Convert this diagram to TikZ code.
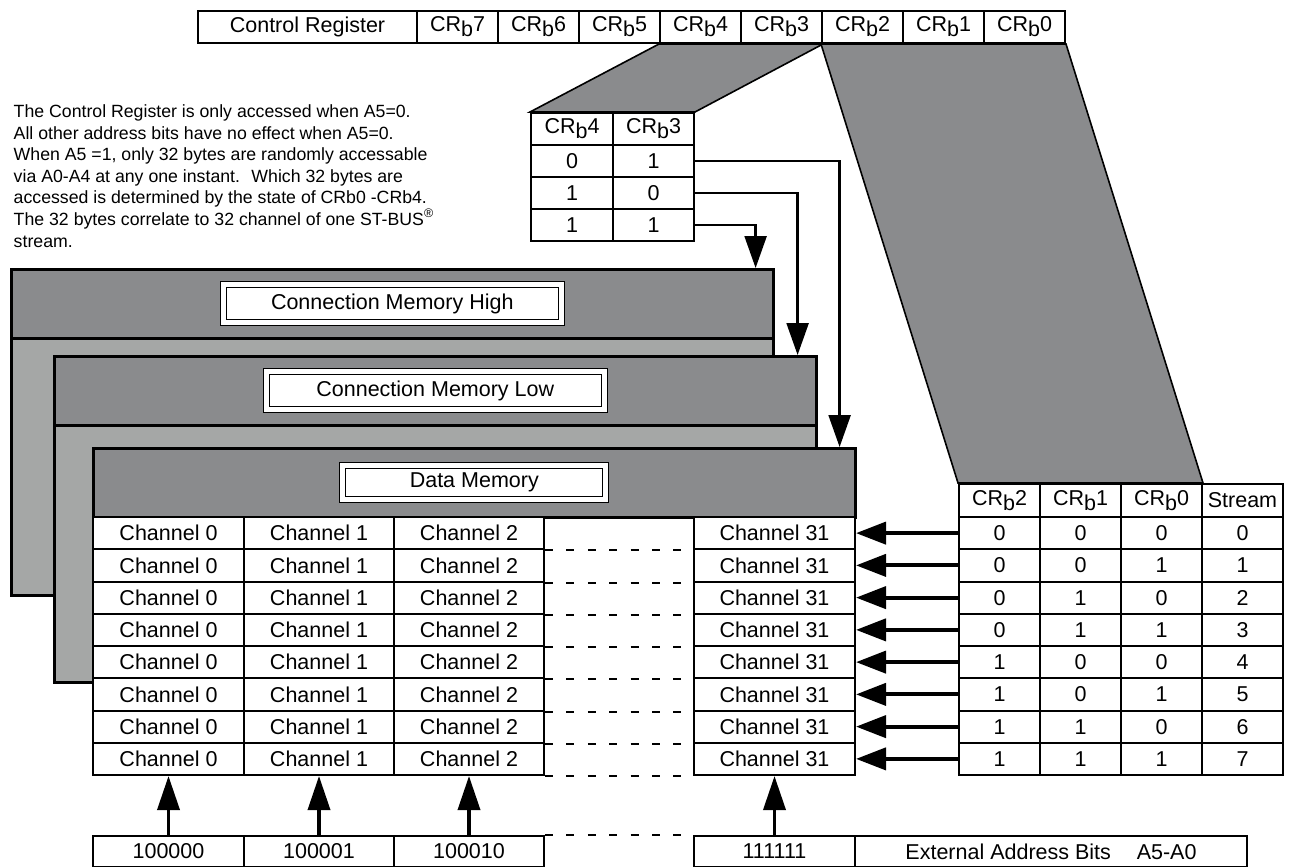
\documentclass[tikz,border=0pt]{standalone}
\usepackage{fontspec}
\setmainfont{Liberation Sans}
\usepackage{tikz}
\tikzset{every picture/.style={line width=0.75pt}}
\usetikzlibrary{positioning, calc, arrows.meta}

\definecolor{hdrgray}{RGB}{138,139,141}
\definecolor{bodygray}{RGB}{165,167,166}

\newcommand{\crbit}[1]{CR\raisebox{-0.45ex}{b}#1}

\begin{document}
\begin{tikzpicture}[
	x=0.5pt, y=-0.5pt,
	>=Triangle,
	every node/.style={font=\fontsize{10.75}{12}\selectfont},
	cell/.style={draw, line width=1pt, fill=white, inner sep=0pt, anchor=north west, minimum height=16.125pt},
	panel/.style={draw, line width=1.3pt, fill=bodygray, inner sep=0pt, anchor=north west, minimum width=381pt, minimum height=163pt},
	header/.style={draw, line width=1.3pt, fill=hdrgray, inner sep=0pt, anchor=north west, minimum width=381pt, minimum height=34.5pt},
	title box/.style={draw, double, double distance=2.6pt, line width=0.5pt, fill=white},
	trap/.style={draw=black, line width=0.8pt, fill=hdrgray},
	gap dash/.style={line width=1pt, dash pattern=on 4pt off 6.7pt},
	sel arrow/.style={-{Triangle[length=16pt, width=11pt]}, line width=1.2pt},
	row arrow/.style={-{Triangle[length=15pt, width=11pt]}, line width=2pt},
	addr arrow/.style={-{Triangle[length=17pt, width=11pt]}, line width=1.8pt}
	]
	
	\useasboundingbox (0,0) rectangle (1296,867);
	
	% --- NOTE ---
	\node[anchor=north west, align=left, inner sep=0pt, font=\fontsize{8.85}{10.8}\selectfont] (note) at (13,104)
	{The Control Register is only accessed when A5=0.\\
	 All other address bits have no effect when A5=0.\\
	 When A5 =1, only 32 bytes are randomly accessable\\
	 via A0-A4 at any one instant.~ Which 32 bytes are\\
	 accessed is determined by the state of CRb0 -CRb4.\\
	 The 32 bytes correlate to 32 channel of one ST-BUS\textsuperscript{\textregistered}\\
	 stream.};
	
	% --- MEMORY PANELS (back to front) ---
	\node[panel] (cmh) at (10,268) {};
	\node[header] (cmh-top) at (cmh.north west) {};
	\node[title box, minimum width=169pt, minimum height=19pt] (cmh-title) at (cmh-top.center) {Connection Memory High};
	
	\node[panel] (cml) at (53,355) {};
	\node[header] (cml-top) at (cml.north west) {};
	\node[title box, minimum width=169pt, minimum height=19pt] (cml-title) at (cml-top.center) {Connection Memory Low};
	
	\node[panel, draw=none, fill=white] (dm) at (92,447) {};
	\node[header] (dm-top) at (dm.north west) {};
	\node[title box, minimum width=131.5pt, minimum height=17pt] (dm-title) at (dm-top.center) {Data Memory};
	
	% Channel rows
	\foreach \r in {1,...,8} {
		\pgfmathsetmacro{\yy}{516+(\r-1)*32.25}
		\node[cell, minimum width=75.5pt] (ch-\r-0) at (92,\yy) {Channel 0};
		\node[cell, minimum width=75pt] (ch-\r-1) at (243,\yy) {Channel 1};
		\node[cell, minimum width=75pt] (ch-\r-2) at (393,\yy) {Channel 2};
		\node[cell, minimum width=80.5pt] (ch-\r-31) at (693,\yy) {Channel 31};
		\draw[gap dash] (ch-\r-2.south east) -- (ch-\r-31.south west);
	}
	
	% --- CONTROL REGISTER ---
	\node[cell, minimum width=109.5pt, minimum height=16pt] (ctrl) at (197,10) {Control Register};
	\foreach \b [count=\i from 0] in {7,6,...,0}
		\node[cell, minimum width=40.5pt, minimum height=16pt] (crb-\b) at (416+\i*81,10) {\crbit{\b}};
	
	% --- MEMORY SELECT TABLE (CRb4, CRb3) ---
	\node[cell, minimum width=41pt, minimum height=16pt] (sm-0-4) at (530,112) {\crbit{4}};
	\node[cell, minimum width=40.5pt, minimum height=16pt] (sm-0-3) at (612,112) {\crbit{3}};
	\foreach \r/\u/\v in {1/0/1, 2/1/0, 3/1/1} {
		\node[cell, minimum width=41pt, minimum height=16pt] (sm-\r-4) at (530,112+\r*32) {\u};
		\node[cell, minimum width=40.5pt, minimum height=16pt] (sm-\r-3) at (612,112+\r*32) {\v};
	}
	
	% --- STREAM SELECT TABLE (CRb2..CRb0) ---
	\node[cell, minimum width=40.5pt, minimum height=16.5pt] (rt-0-2) at (958,483) {\crbit{2}};
	\node[cell, minimum width=40.5pt, minimum height=16.5pt] (rt-0-1) at (1039,483) {\crbit{1}};
	\node[cell, minimum width=40.5pt, minimum height=16.5pt] (rt-0-0) at (1120,483) {\crbit{0}};
	\node[cell, minimum width=40.5pt, minimum height=16.5pt] (rt-0-s) at (1201,483) {Stream};
	\foreach \r in {1,...,8} {
		\pgfmathsetmacro{\yy}{516+(\r-1)*32.25}
		\pgfmathtruncatemacro{\bA}{div(\r-1,4)}
		\pgfmathtruncatemacro{\bB}{mod(div(\r-1,2),2)}
		\pgfmathtruncatemacro{\bC}{mod(\r-1,2)}
		\pgfmathtruncatemacro{\strm}{\r-1}
		\node[cell, minimum width=40.5pt] (rt-\r-2) at (958,\yy) {\bA};
		\node[cell, minimum width=40.5pt] (rt-\r-1) at (1039,\yy) {\bB};
		\node[cell, minimum width=40.5pt] (rt-\r-0) at (1120,\yy) {\bC};
		\node[cell, minimum width=40.5pt] (rt-\r-s) at (1201,\yy) {\strm};
		\draw[row arrow] (rt-\r-2.west) -- (ch-\r-31.east);
	}
	
	% Gray bit fans
	\draw[trap] (crb-4.south west) -- (crb-3.south east) -- (sm-0-3.north east) -- (sm-0-4.north west) -- cycle;
	\draw[trap] (crb-2.south west) -- (crb-0.south east) -- (rt-0-0.north east) -- (rt-0-2.north west) -- cycle;
	
	% Memory select arrows
	\draw[sel arrow] (sm-1-3.east) -| ($(dm-top.north east)+(-17,0)$);
	\draw[sel arrow] (sm-2-3.east) -| ($(cml.north east)+(-20,0)$);
	\draw[sel arrow] (sm-3-3.east) -| ($(cmh.north east)+(-19,0)$);
	
	% --- EXTERNAL ADDRESS ---
	\node[cell, minimum width=75.5pt, minimum height=15.5pt] (ad-0) at (92,835) {100000};
	\node[cell, minimum width=75pt, minimum height=15.5pt] (ad-1) at (243,835) {100001};
	\node[cell, minimum width=75pt, minimum height=15.5pt] (ad-2) at (393,835) {100010};
	\node[cell, minimum width=80.5pt, minimum height=15.5pt] (ad-31) at (693,835) {111111};
	\node[cell, minimum width=196pt, minimum height=15.5pt] (ext) at (854,835) {External Address Bits\hspace{1.2em}A5-A0};
	\draw[gap dash] (ad-2.north east) -- (ad-31.north west);
	\draw[gap dash] (ad-2.south east) -- (ad-31.south west);
	\foreach \c in {0,1,2,31}
		\draw[addr arrow] (ad-\c.north) -- (ch-8-\c.south);
	
\end{tikzpicture}
\end{document}
